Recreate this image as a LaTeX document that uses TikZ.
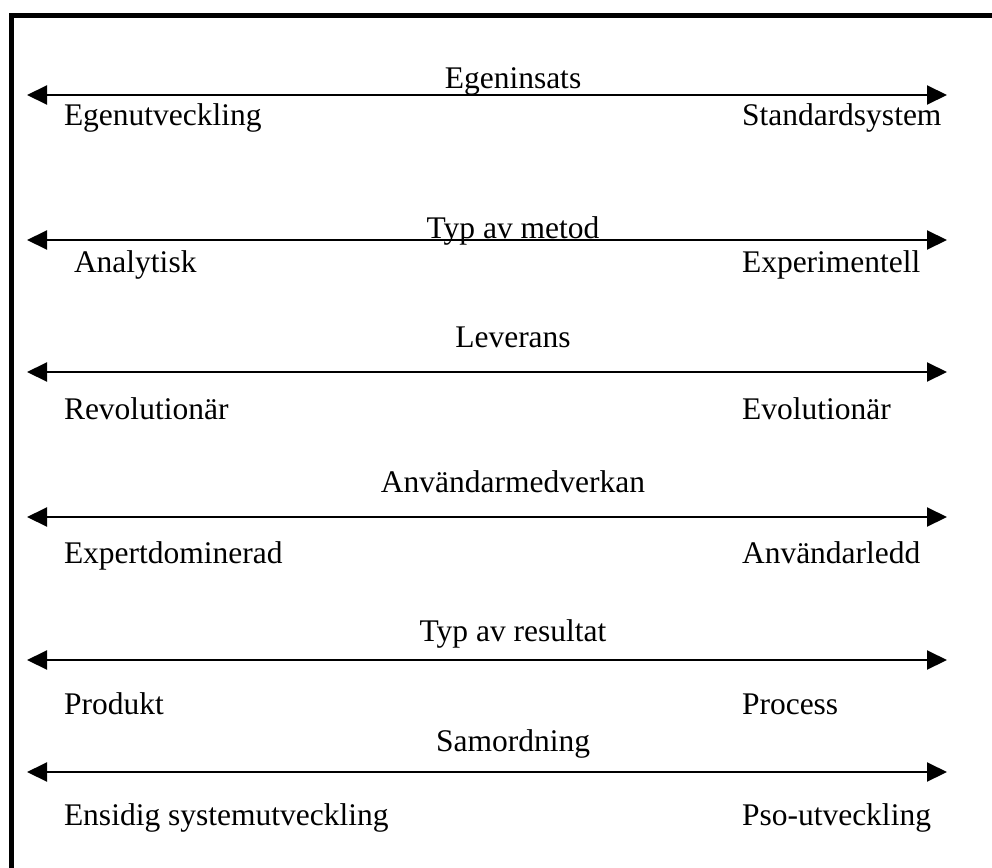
\documentclass[tikz,border=0pt]{standalone}
\usepackage{fontspec}
\setmainfont{Liberation Serif}
\usetikzlibrary{arrows.meta}
\tikzset{
  every picture/.style={x=1pt, y=-1pt, line width=2pt},
  frame/.style={line width=5pt, line join=miter},
  axis/.style={{Triangle[length=20pt, width=19pt]}-{Triangle[length=20pt, width=19pt]}, line width=2pt},
  lbl/.style={inner sep=0pt, font=\fontsize{31.5}{36}\selectfont},
}
\begin{document}
\begin{tikzpicture}
  \useasboundingbox (0,0) rectangle (992,867);
  % frame, left and top only
  \draw[frame] (11,870) |- (995,16);
  % one row per dimension: arrow, title above, ends below
  \foreach \i/\ya/\yt/\yl/\xl/\titel/\vanster/\hoger in {
    1/95/88/125/63/Egeninsats/Egenutveckling/Standardsystem,
    2/240/238/272/73/Typ av metod/Analytisk/Experimentell,
    3/372/347/419/63/Leverans/Revolutionär/Evolutionär,
    4/517/492/563/63/Användarmedverkan/Expertdominerad/Användarledd,
    5/660/641/714/63/Typ av resultat/Produkt/Process,
    6/772/751/825/63/Samordning/Ensidig systemutveckling/Pso-utveckling}{
    \coordinate (l\i) at (27,\ya);
    \coordinate (r\i) at (947,\ya);
    \draw[axis] (l\i) -- (r\i);
    \node[lbl, anchor=base] (t\i) at (513,\yt) {\titel};
    \node[lbl, anchor=base west] (v\i) at (\xl,\yl) {\vanster};
    \node[lbl, anchor=base west] (h\i) at (741,\yl) {\hoger};
  }
\end{tikzpicture}
\end{document}
